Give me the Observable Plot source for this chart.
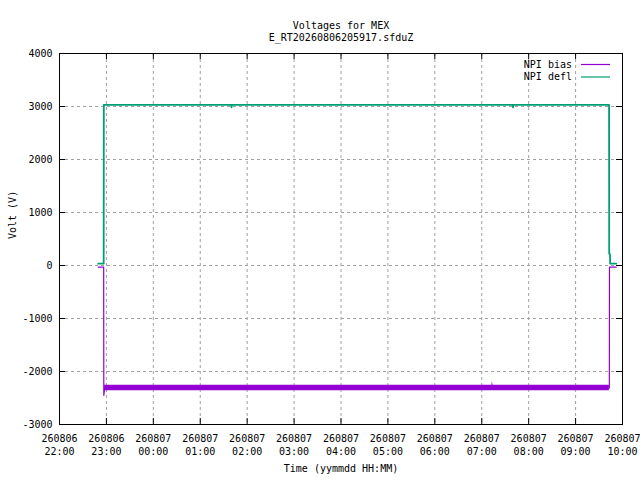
<!DOCTYPE html>
<html><head><meta charset="utf-8">
<script src="https://cdn.jsdelivr.net/npm/d3@7"></script>
<script src="https://cdn.jsdelivr.net/npm/@observablehq/plot@0.6"></script>
<style>body{margin:0;background:#fff} #chart svg{display:block}</style>
</head><body><div id="chart"></div>
<script>
// ---- data ----
const titleText = "Voltages for MEX";
const subtitleText = "E_RT20260806205917.sfduZ";
const xLabel = "Time (yymmdd HH:MM)";
const yLabel = "Volt (V)";
const seriesNames = ["NPI bias", "NPI defl"];
const seriesColors = ["#9400d3", "#009e73"];

const xTicks = ["2026-08-06T22:00:00Z","2026-08-06T23:00:00Z","2026-08-07T00:00:00Z","2026-08-07T01:00:00Z",
  "2026-08-07T02:00:00Z","2026-08-07T03:00:00Z","2026-08-07T04:00:00Z","2026-08-07T05:00:00Z",
  "2026-08-07T06:00:00Z","2026-08-07T07:00:00Z","2026-08-07T08:00:00Z","2026-08-07T09:00:00Z","2026-08-07T10:00:00Z"];
const yTicks = [-3000, -2000, -1000, 0, 1000, 2000, 3000, 4000];

// NPI bias: step line (outside the noisy band)
const biasTime = ["2026-08-06T22:49:30Z","2026-08-06T22:56:30Z","2026-08-06T22:56:40Z","2026-08-06T22:57:50Z",
  "2026-08-07T09:43:10Z","2026-08-07T09:43:20Z","2026-08-07T09:52:00Z"];
const biasVolt = [-30, -30, -2450, -2310, -2310, -30, -30];
// NPI bias: noisy band envelope while on
const bandTime = ["2026-08-06T22:57:40Z","2026-08-07T07:13:00Z","2026-08-07T07:13:40Z","2026-08-07T07:14:20Z","2026-08-07T09:43:10Z"];
const bandHigh = [-2258, -2258, -2190, -2258, -2258];
const bandLow  = [-2365, -2365, -2365, -2365, -2365];

// NPI defl
const deflTime = ["2026-08-06T22:49:30Z","2026-08-06T22:56:30Z","2026-08-06T22:56:40Z",
  "2026-08-07T01:39:40Z","2026-08-07T01:40:00Z","2026-08-07T01:40:20Z",
  "2026-08-07T07:39:40Z","2026-08-07T07:40:00Z","2026-08-07T07:40:20Z",
  "2026-08-07T09:42:50Z","2026-08-07T09:43:00Z","2026-08-07T09:44:00Z","2026-08-07T09:44:13Z","2026-08-07T09:52:00Z"];
const deflVolt = [35, 35, 3030, 3030, 2985, 3030, 3030, 2985, 3030, 3030, 220, 210, 35, 35];

// ---- build tables ----
const xTickDates = xTicks.map(s => new Date(s));
const bias = biasTime.map((t, i) => ({t: new Date(t), v: biasVolt[i]}));
const band = bandTime.map((t, i) => ({t: new Date(t), hi: bandHigh[i], lo: bandLow[i]}));
const defl = deflTime.map((t, i) => ({t: new Date(t), v: deflVolt[i]}));

const W = 640, H = 480, mT = 53, mB = 56, mL = 59, mR = 18;
const innerH = H - mT - mB, innerW = W - mL - mR;
const tickLen = 6;
const font = "'DejaVu Sans Mono', monospace";
const fmt = d3.utcFormat("%y%m%d\n%H:%M");

function legendMark(index, scales, values, dims) {
  const right = dims.width - dims.marginRight;
  const g = d3.create("svg:g").attr("font-family", font).attr("font-size", 10);
  seriesNames.forEach((name, i) => {
    const y = dims.marginTop + 11.5 + i * 12.5;
    g.append("text").attr("x", right - 50).attr("y", y).attr("dy", "0.32em")
      .attr("text-anchor", "end").attr("fill", "black").text(name);
    g.append("line").attr("x1", right - 41).attr("x2", right - 12)
      .attr("y1", y).attr("y2", y).attr("stroke", seriesColors[i]).attr("stroke-width", 1.2);
  });
  return g.node();
}

const chart = Plot.plot({
  width: W, height: H,
  marginTop: mT, marginBottom: mB, marginLeft: mL, marginRight: mR,
  style: {fontFamily: font, fontSize: "10px", background: "white", color: "black"},
  x: {type: "utc", domain: [xTickDates[0], xTickDates[xTickDates.length - 1]]},
  y: {domain: [yTicks[0], yTicks[yTicks.length - 1]]},
  marks: [
    Plot.gridX(xTickDates, {stroke: "#a0a0a0", strokeOpacity: 1, strokeDasharray: "3,3"}),
    Plot.gridY(yTicks, {stroke: "#a0a0a0", strokeOpacity: 1, strokeDasharray: "3,3"}),
    Plot.areaY(band, {x: "t", y1: "lo", y2: "hi", fill: seriesColors[0], curve: "linear"}),
    Plot.line(bias, {x: "t", y: "v", stroke: seriesColors[0], strokeWidth: 1.2}),
    Plot.line(defl, {x: "t", y: "v", stroke: seriesColors[1], strokeWidth: 1.8}),
    // inward ticks on all four sides
    Plot.ruleX(xTickDates, {x: d => d, insetTop: innerH - tickLen, stroke: "black"}),
    Plot.ruleX(xTickDates, {x: d => d, insetBottom: innerH - tickLen, stroke: "black"}),
    Plot.ruleY(yTicks, {y: d => d, insetRight: innerW - tickLen, stroke: "black"}),
    Plot.ruleY(yTicks, {y: d => d, insetLeft: innerW - tickLen, stroke: "black"}),
    Plot.frame({stroke: "black"}),
    Plot.axisX({ticks: xTickDates, tickSize: 0, tickPadding: 8, tickFormat: fmt, label: null, lineHeight: 1.3}),
    Plot.axisY({ticks: yTicks, tickSize: 0, tickPadding: 7, tickFormat: d => String(d), label: null}),
    Plot.text([titleText], {frameAnchor: "top", dy: -32}),
    Plot.text([subtitleText], {frameAnchor: "top", dy: -20}),
    Plot.text([xLabel], {frameAnchor: "bottom", dy: 47}),
    Plot.text([yLabel], {frameAnchor: "left", dx: -47, rotate: -90}),
    legendMark
  ]
});
document.getElementById("chart").append(chart);
</script>
</body></html>
